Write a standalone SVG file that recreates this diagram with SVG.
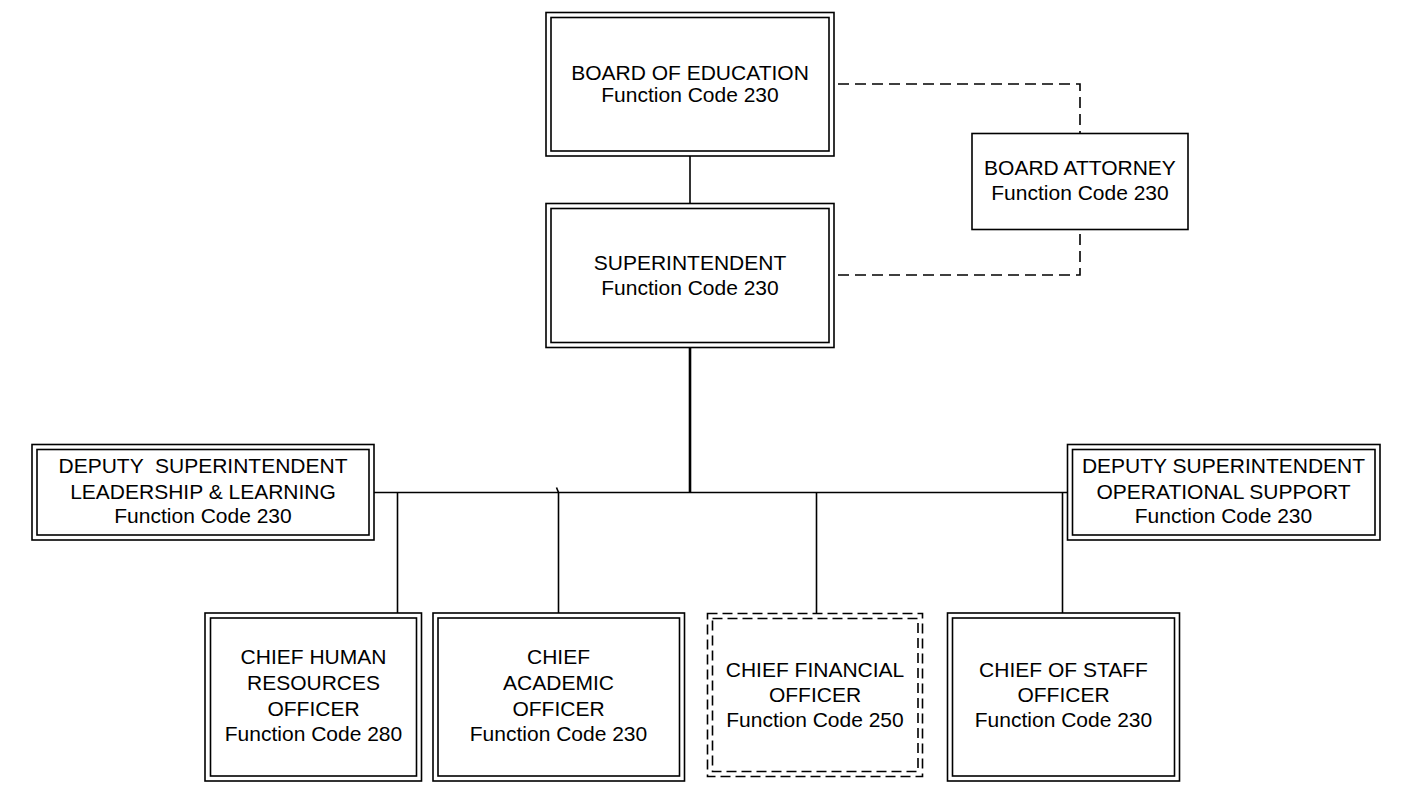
<svg xmlns="http://www.w3.org/2000/svg" width="1415" height="787" viewBox="0 0 1415 787">
  <style>
    .frame { fill: none; stroke: #000; stroke-width: 1.6; }
    .dashframe { fill: none; stroke: #000; stroke-width: 1.6; stroke-dasharray: 10 5; }
    .wire { fill: none; stroke: #000; stroke-width: 1.6; }
    .wire-bold { fill: none; stroke: #000; stroke-width: 2.6; }
    .wire-dash { fill: none; stroke: #000; stroke-width: 1.6; stroke-dasharray: 11 6; }
    .label { font-family: "Liberation Sans", Arial, sans-serif; font-size: 21px; fill: #000; text-anchor: middle; }
  </style>
  <rect width="1415" height="787" fill="#fff"/>

  <!-- connectors -->
  <g id="connectors">
    <path class="wire" d="M690,156 V203.5"/>
    <path class="wire-dash" d="M838,84 H1080 V133.5"/>
    <path class="wire-dash" d="M838,275 H1080 V229.5"/>
    <path class="wire-bold" d="M690,347.5 V492.5"/>
    <path class="wire" d="M374,492.5 H1067.5"/>
    <path class="wire" d="M397.5,492.5 V613"/>
    <path class="wire" d="M556.5,487.5 L558.5,492.5 V613"/>
    <path class="wire" d="M816.5,492.5 V613.5"/>
    <path class="wire" d="M1062.5,492.5 V613"/>
  </g>

  <g id="board-of-education">
    <rect class="frame" x="546" y="12.5" width="288" height="143.5"/>
    <rect class="frame" x="551" y="17.5" width="278" height="133.5"/>
    <text class="label" x="690" y="79.5">BOARD OF EDUCATION</text>
    <text class="label" x="690" y="102">Function Code 230</text>
  </g>

  <g id="board-attorney">
    <rect class="frame" x="972" y="133.5" width="216" height="96"/>
    <text class="label" x="1080" y="174.5">BOARD ATTORNEY</text>
    <text class="label" x="1080" y="200">Function Code 230</text>
  </g>

  <g id="superintendent">
    <rect class="frame" x="546" y="203.5" width="288" height="144"/>
    <rect class="frame" x="551" y="208.5" width="278" height="134"/>
    <text class="label" x="690" y="269.5">SUPERINTENDENT</text>
    <text class="label" x="690" y="294.5">Function Code 230</text>
  </g>

  <g id="deputy-leadership">
    <rect class="frame" x="32" y="444.5" width="342" height="95.5"/>
    <rect class="frame" x="37" y="449.5" width="332" height="85.5"/>
    <text class="label" x="203" y="473" xml:space="preserve">DEPUTY  SUPERINTENDENT</text>
    <text class="label" x="203" y="498.5">LEADERSHIP &amp; LEARNING</text>
    <text class="label" x="203" y="523">Function Code 230</text>
  </g>

  <g id="deputy-operational">
    <rect class="frame" x="1067.5" y="444.5" width="312.5" height="95.5"/>
    <rect class="frame" x="1072.5" y="449.5" width="302.5" height="85.5"/>
    <text class="label" x="1223.5" y="473">DEPUTY SUPERINTENDENT</text>
    <text class="label" x="1223.5" y="498.5">OPERATIONAL SUPPORT</text>
    <text class="label" x="1223.5" y="523">Function Code 230</text>
  </g>

  <g id="chief-human-resources">
    <rect class="frame" x="205" y="613" width="216.5" height="168"/>
    <rect class="frame" x="210.5" y="618" width="206" height="158"/>
    <text class="label" x="313.5" y="664">CHIEF HUMAN</text>
    <text class="label" x="313.5" y="690">RESOURCES</text>
    <text class="label" x="313.5" y="716">OFFICER</text>
    <text class="label" x="313.5" y="741">Function Code 280</text>
  </g>

  <g id="chief-academic">
    <rect class="frame" x="433" y="613" width="251.5" height="168"/>
    <rect class="frame" x="438" y="618" width="241.5" height="158"/>
    <text class="label" x="558.5" y="664">CHIEF</text>
    <text class="label" x="558.5" y="690">ACADEMIC</text>
    <text class="label" x="558.5" y="716">OFFICER</text>
    <text class="label" x="558.5" y="741">Function Code 230</text>
  </g>

  <g id="chief-financial">
    <rect class="dashframe" x="707.5" y="613.5" width="215" height="163"/>
    <rect class="dashframe" x="712.5" y="618.5" width="205.5" height="153"/>
    <text class="label" x="815" y="677">CHIEF FINANCIAL</text>
    <text class="label" x="815" y="702">OFFICER</text>
    <text class="label" x="815" y="727">Function Code 250</text>
  </g>

  <g id="chief-of-staff">
    <rect class="frame" x="947.5" y="613" width="232" height="168"/>
    <rect class="frame" x="952.5" y="618" width="222" height="158"/>
    <text class="label" x="1063.5" y="677">CHIEF OF STAFF</text>
    <text class="label" x="1063.5" y="702">OFFICER</text>
    <text class="label" x="1063.5" y="727">Function Code 230</text>
  </g>
</svg>
